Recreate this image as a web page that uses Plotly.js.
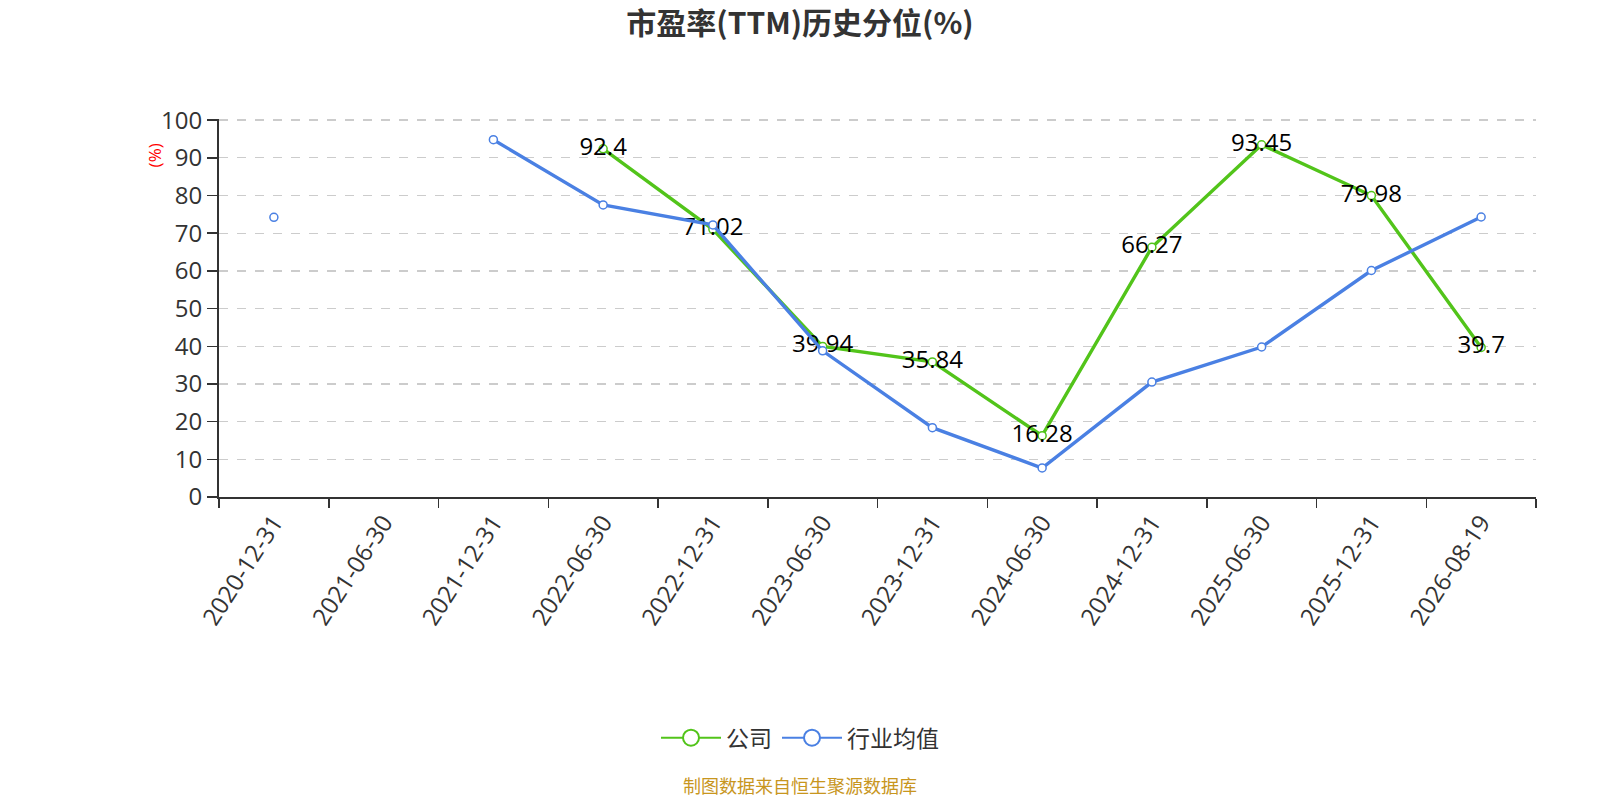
<!DOCTYPE html>
<html>
<head>
<meta charset="utf-8">
<script src="https://cdn.plot.ly/plotly-3.0.1.min.js"></script>
<style>
    html, body { margin: 0; padding: 0; background: #fff; }
    #chart { width: 1600px; height: 800px; }
</style>
</head>
<body>
<div id="chart"></div>
<script>
    // categories and values
    var dates = ['2020-12-31', '2021-06-30', '2021-12-31', '2022-06-30', '2022-12-31', '2023-06-30',
        '2023-12-31', '2024-06-30', '2024-12-31', '2025-06-30', '2025-12-31', '2026-08-19'];
    var company = [null, null, null, 92.4, 71.02, 39.94, 35.84, 16.28, 66.27, 93.45, 79.98, 39.7];
    var industry = [74.2, null, 94.8, 77.5, 72.2, 38.8, 18.4, 7.7, 30.5, 39.8, 60.1, 74.3];

    var font = '"Open Sans", "Noto Sans CJK SC", sans-serif';
    var cjk = '"Noto Sans CJK SC", sans-serif';
    var green = '#52c41a';
    var blue = '#4a80e3';

    // page centre expressed in paper units (plot area is not centred)
    var ml = 219, mr = 64;
    var pageMid = (800 - ml) / (1600 - ml - mr);

    var traces = [{
        name: '公司',
        x: dates,
        y: company,
        type: 'scatter',
        mode: 'lines+markers+text',
        text: company.map(function (v) { return v === null ? '' : String(v); }),
        textposition: 'middle center',
        textfont: {family: font, size: 24, color: '#000'},
        line: {color: green, width: 3.4},
        marker: {symbol: 'circle', size: 8, color: '#fff', line: {color: green, width: 1.5}},
        connectgaps: false,
        showlegend: false,
        hoverinfo: 'none'
    }, {
        name: '行业均值',
        x: dates,
        y: industry,
        type: 'scatter',
        mode: 'lines+markers',
        line: {color: blue, width: 3.4},
        marker: {symbol: 'circle', size: 8, color: '#fff', line: {color: blue, width: 1.5}},
        connectgaps: false,
        showlegend: false,
        hoverinfo: 'none'
    }, {
        // legend entries only, with the bigger ring icon
        name: '公司',
        x: [null], y: [null],
        type: 'scatter',
        mode: 'lines+markers',
        line: {color: green, width: 2},
        marker: {symbol: 'circle', size: 16, color: '#fff', line: {color: green, width: 2}}
    }, {
        name: '行业均值',
        x: [null], y: [null],
        type: 'scatter',
        mode: 'lines+markers',
        line: {color: blue, width: 2},
        marker: {symbol: 'circle', size: 16, color: '#fff', line: {color: blue, width: 2}}
    }];

    var layout = {
        width: 1600,
        height: 800,
        paper_bgcolor: '#fff',
        plot_bgcolor: '#fff',
        font: {family: font, color: '#333'},
        margin: {l: ml, r: mr, t: 119, b: 303, pad: 0},
        title: {
            text: '<b>市盈率(TTM)历史分位(%)</b>',
            font: {family: cjk, size: 30, color: '#333'},
            x: 0.5, xanchor: 'center',
            y: 1 - 23 / 800, yanchor: 'middle', yref: 'container'
        },
        xaxis: {
            type: 'category',
            tickson: 'boundaries',
            ticks: 'outside',
            ticklen: 9,
            tickcolor: '#333',
            tickwidth: 1.5,
            showline: true,
            linecolor: '#333',
            linewidth: 2,
            showgrid: false,
            tickangle: -57,
            tickfont: {family: font, size: 24, color: '#333'},
            range: [-0.5, 11.5],
            fixedrange: true
        },
        yaxis: {
            range: [0, 100.3],
            tickvals: [0, 10, 20, 30, 40, 50, 60, 70, 80, 90, 100],
            ticks: 'outside',
            ticklen: 10,
            tickcolor: '#333',
            tickwidth: 1.5,
            showline: true,
            linecolor: '#333',
            linewidth: 2,
            showgrid: true,
            gridcolor: '#cccccc',
            griddash: 'dash',
            gridwidth: 1.3,
            zeroline: false,
            tickfont: {family: font, size: 24, color: '#333'},
            fixedrange: true
        },
        showlegend: true,
        legend: {
            orientation: 'h',
            x: pageMid, xanchor: 'center',
            y: -0.637, yanchor: 'middle',
            font: {family: cjk, size: 23, color: '#333'},
            itemwidth: 60
        },
        annotations: [{
            text: '(%)',
            xref: 'paper', yref: 'paper',
            x: -0.049, y: 0.905,
            xanchor: 'center', yanchor: 'middle',
            textangle: -90,
            showarrow: false,
            font: {family: font, size: 17, color: 'red'}
        }, {
            text: '制图数据来自恒生聚源数据库',
            xref: 'paper', yref: 'paper',
            x: pageMid, y: -0.763,
            xanchor: 'center', yanchor: 'middle',
            showarrow: false,
            font: {family: cjk, size: 18, color: '#c8961e'}
        }]
    };

    Plotly.newPlot('chart', traces, layout, {displayModeBar: false, staticPlot: true});
</script>
</body>
</html>
